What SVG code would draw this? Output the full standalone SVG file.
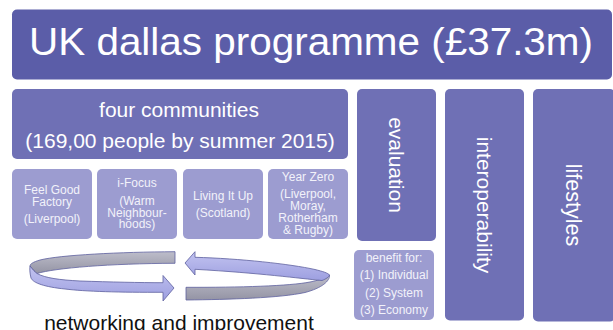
<svg xmlns="http://www.w3.org/2000/svg" width="613" height="330" viewBox="0 0 613 330">
  <defs>
    <linearGradient id="lav" x1="0" y1="0" x2="0" y2="1">
      <stop offset="0" stop-color="#c2c3f0"/>
      <stop offset="1" stop-color="#9d9fe0"/>
    </linearGradient>
    <linearGradient id="gry" x1="0" y1="0" x2="0" y2="1">
      <stop offset="0" stop-color="#bdbdca"/>
      <stop offset="1" stop-color="#9494a4"/>
    </linearGradient>
  </defs>
  <style>
    text { font-family: "Liberation Sans", Arial, sans-serif; }
    .title { fill: #5b5da8; }
    .mid { fill: #6f70b5; }
    .small { fill: #9c9cd0; }
    .wt { fill: #ffffff; text-anchor: middle; }
    .st { fill: #f2f2fa; text-anchor: middle; font-size: 12px; }
    .ribF { fill: url(#lav); stroke: #5d5f9e; stroke-width: 0.8; }
    .ribB { fill: url(#gry); stroke: #5d5f9e; stroke-width: 0.8; }
  </style>

  <g id="title">
    <rect class="title" x="12" y="9.5" width="600" height="70" rx="5"/>
    <text class="wt" x="311" y="55" font-size="39" textLength="564" lengthAdjust="spacingAndGlyphs">UK dallas programme (£37.3m)</text>
  </g>

  <g id="four-communities">
    <rect class="mid" x="12" y="89" width="336" height="70" rx="5"/>
    <text class="wt" x="179" y="117" font-size="21">four communities</text>
    <text class="wt" x="180" y="148" font-size="21">(169,00 people by summer 2015)</text>
  </g>

  <g id="feel-good-factory">
    <rect class="small" x="12" y="169" width="80" height="70" rx="5"/>
    <text class="st" x="52" y="194">Feel Good</text>
    <text class="st" x="52" y="205.5">Factory</text>
    <text class="st" x="52" y="223">(Liverpool)</text>
  </g>

  <g id="i-focus">
    <rect class="small" x="97" y="169" width="80" height="70" rx="5"/>
    <text class="st" x="137" y="186.5">i-Focus</text>
    <text class="st" x="137" y="205">(Warm</text>
    <text class="st" x="137" y="216.5">Neighbour-</text>
    <text class="st" x="137" y="228">hoods)</text>
  </g>

  <g id="living-it-up">
    <rect class="small" x="183" y="169" width="80" height="70" rx="5"/>
    <text class="st" x="223" y="200">Living It Up</text>
    <text class="st" x="223" y="216.5">(Scotland)</text>
  </g>

  <g id="year-zero">
    <rect class="small" x="268" y="169" width="80" height="70" rx="5"/>
    <text class="st" x="308" y="181">Year Zero</text>
    <text class="st" x="308" y="198">(Liverpool,</text>
    <text class="st" x="308" y="209.5">Moray,</text>
    <text class="st" x="308" y="221.5">Rotherham</text>
    <text class="st" x="308" y="233.5">&amp; Rugby)</text>
  </g>

  <g id="evaluation">
    <rect class="mid" x="357" y="89" width="79" height="152" rx="5"/>
    <text class="wt" font-size="21" transform="translate(396,165) rotate(90)" x="0" y="7.5">evaluation</text>
  </g>

  <g id="benefit">
    <rect class="small" x="354" y="250" width="80" height="70" rx="5"/>
    <text class="st" x="394" y="261.5">benefit for:</text>
    <text class="st" x="394" y="279">(1) Individual</text>
    <text class="st" x="394" y="296.5">(2) System</text>
    <text class="st" x="394" y="313.5">(3) Economy</text>
  </g>

  <g id="interoperability">
    <rect class="mid" x="445" y="89" width="79" height="231.5" rx="5"/>
    <text class="wt" font-size="21" transform="translate(484.5,205) rotate(90)" x="0" y="7.5">interoperability</text>
  </g>

  <g id="lifestyles">
    <rect class="mid" x="533" y="89" width="82" height="232.5" rx="5"/>
    <text class="wt" font-size="21.5" transform="translate(573,205) rotate(90)" x="0" y="7.5">lifestyles</text>
  </g>

  <g id="connectors">
    <path class="ribB" d="M175,251.7 C120,252 60,255 40,260 C33,262 30,264 30,266 C33,270 35,272 37,273.5 C55,268 110,263.5 175,263.3 Z"/>
    <path class="ribF" d="M30,266 C33,270 35,272 37,273.5 C45,278 60,280 80,281 C110,282 140,282.7 163,282.7 L163,275.5 L174,288 L163,301 L163,292.3 C120,292.5 85,291.5 65,289 C45,287 33,283 31,278 C30,274 29.5,270 30,266 Z"/>
    <path class="ribB" d="M186,287.3 C240,287.5 290,286 310,282 C318,280.5 325,278 329.5,275 C330,281 322,288 305,292.5 C280,298 230,299.5 186,300 Z"/>
    <path class="ribF" d="M185,263 L195,251.7 L195,257.3 C240,258.5 290,264 315,269.5 C323,271.5 328,273 329.5,275 C329,277 326,279 322,280.5 C300,278.5 260,273 195,269.3 L195,275 Z"/>
  </g>

  <g id="caption">
    <text x="179" y="330" font-size="21" fill="#111111" text-anchor="middle">networking and improvement</text>
  </g>
</svg>
